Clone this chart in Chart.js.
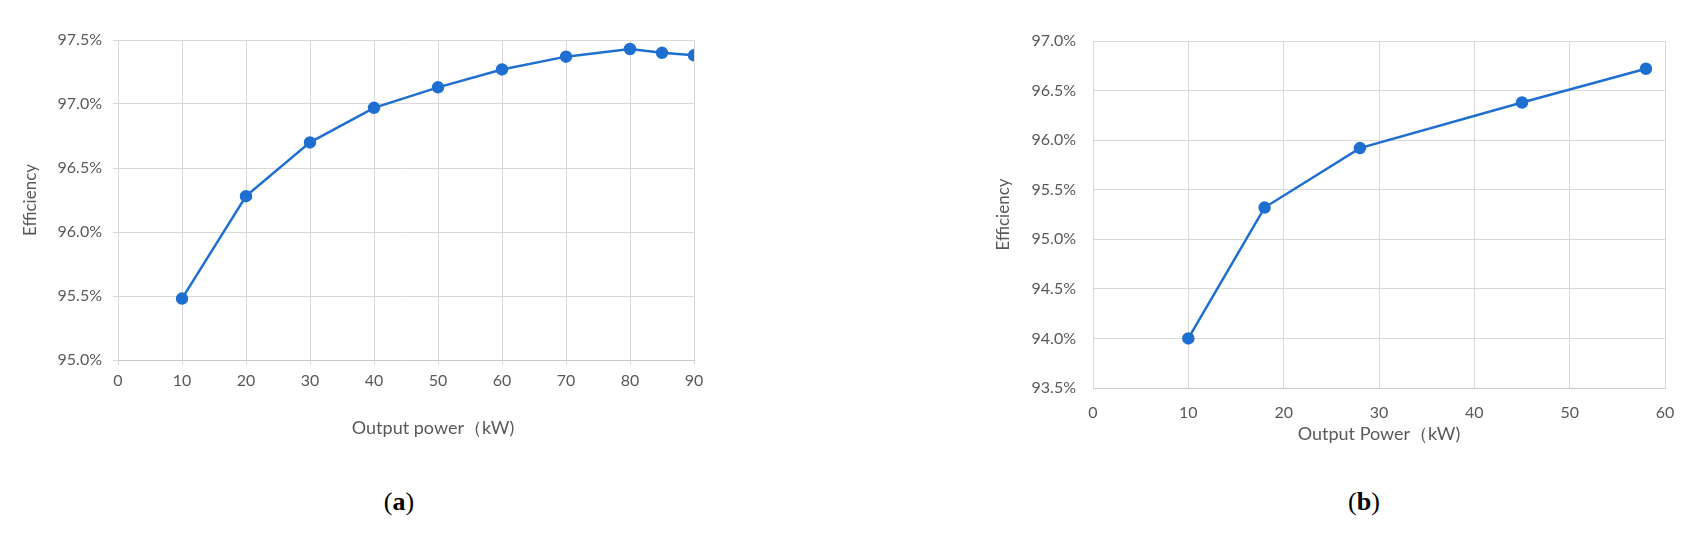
<!DOCTYPE html>
<html>
<head>
<meta charset="utf-8">
<script src="https://cdn.jsdelivr.net/npm/chart.js@4.4.1/dist/chart.umd.min.js"></script>
<style>
  body { margin: 0; background: #fff; width: 1700px; height: 535px; position: relative; overflow: hidden; }
  .box { position: absolute; top: 0; }
  .cap { position: absolute; top: 487px; font-family: "Liberation Serif", serif; font-size: 26px; color: #000; transform: translateX(-50%); }
</style>
</head>
<body>
<div class="box" style="left:0px"><canvas id="chart-a" width="720" height="450"></canvas></div>
<div class="box" style="left:960px"><canvas id="chart-b" width="740" height="450"></canvas></div>
<div class="cap" style="left:399px">(<b>a</b>)</div>
<div class="cap" style="left:1364px">(<b>b</b>)</div>
<script>
// (a) efficiency vs output power
const powerA = [10, 20, 30, 40, 50, 60, 70, 80, 85, 90];
const effA = [95.48, 96.28, 96.70, 96.97, 97.13, 97.27, 97.37, 97.43, 97.40, 97.38];
// (b)
const powerB = [10, 18, 28, 45, 58];
const effB = [94.00, 95.32, 95.92, 96.38, 96.72];

// axis ranges [min, max, step]
const xRangeA = [0, 90, 10];
const yRangeA = [95.0, 97.5, 0.5];
const xRangeB = [0, 60, 10];
const yRangeB = [93.5, 97.0, 0.5];

const blue = "#1f6fd0";
const grey = "#595959";
const gridGrey = "#d9d9d9";

Chart.defaults.font.family = "Lato, 'Noto Sans', sans-serif";
Chart.defaults.color = grey;

function pts(xs, ys) {
  return xs.map((x, i) => ({ x: x, y: ys[i] }));
}

function makeChart(id, xs, ys, xRange, yRange, opt) {
  const ctx = document.getElementById(id).getContext("2d");
  return new Chart(ctx, {
    type: "scatter",
    data: {
      datasets: [{
        data: pts(xs, ys),
        showLine: true,
        borderColor: blue,
        backgroundColor: blue,
        borderWidth: 2.5,
        pointRadius: 5,
        tension: 0,
      }],
    },
    options: {
      responsive: false,
      animation: false,
      devicePixelRatio: 1,
      layout: { padding: { left: 0, top: opt.top, right: opt.right, bottom: 0 } },
      plugins: { legend: { display: false }, tooltip: { enabled: false } },
      scales: {
        x: {
          type: "linear",
          min: xRange[0],
          max: xRange[1],
          afterFit: s => { s.height = opt.xHeight; },
          ticks: { stepSize: xRange[2], padding: opt.xPad, font: { size: 16 }, color: grey },
          grid: { color: gridGrey, drawTicks: opt.ticks, tickLength: 5 },
          border: { color: "#c8c8c8" },
          title: {
            display: true,
            text: opt.xTitle,
            font: { size: 18 },
            color: grey,
            padding: { top: 0, bottom: opt.xTitlePad },
          },
        },
        y: {
          min: yRange[0],
          max: yRange[1],
          afterFit: s => { s.width = opt.yWidth; },
          ticks: {
            stepSize: yRange[2],
            padding: opt.yPad,
            font: { size: 16 },
            color: grey,
            callback: v => v.toFixed(1) + "%",
          },
          grid: { color: gridGrey, drawTicks: opt.ticks, tickLength: 5 },
          border: { color: gridGrey },
          title: {
            display: true,
            text: "Efficiency",
            font: { size: 17 },
            color: grey,
            padding: { top: opt.yTitlePad, bottom: 0 },
          },
        },
      },
    },
  });
}

makeChart("chart-a", powerA, effA, xRangeA, yRangeA, {
  top: 40, right: 26, xHeight: 90, yWidth: 118,
  ticks: true, xPad: 6, yPad: 11,
  xTitle: "\u3000\u3000\u3000Output power\uFF08kW)", xTitlePad: 11, yTitlePad: 20,
});

makeChart("chart-b", powerB, effB, xRangeB, yRangeB, {
  top: 41, right: 35, xHeight: 62, yWidth: 133,
  ticks: false, xPad: 15, yPad: 17,
  xTitle: "Output Power\uFF08kW)", xTitlePad: 5, yTitlePad: 33,
});
</script>
</body>
</html>
